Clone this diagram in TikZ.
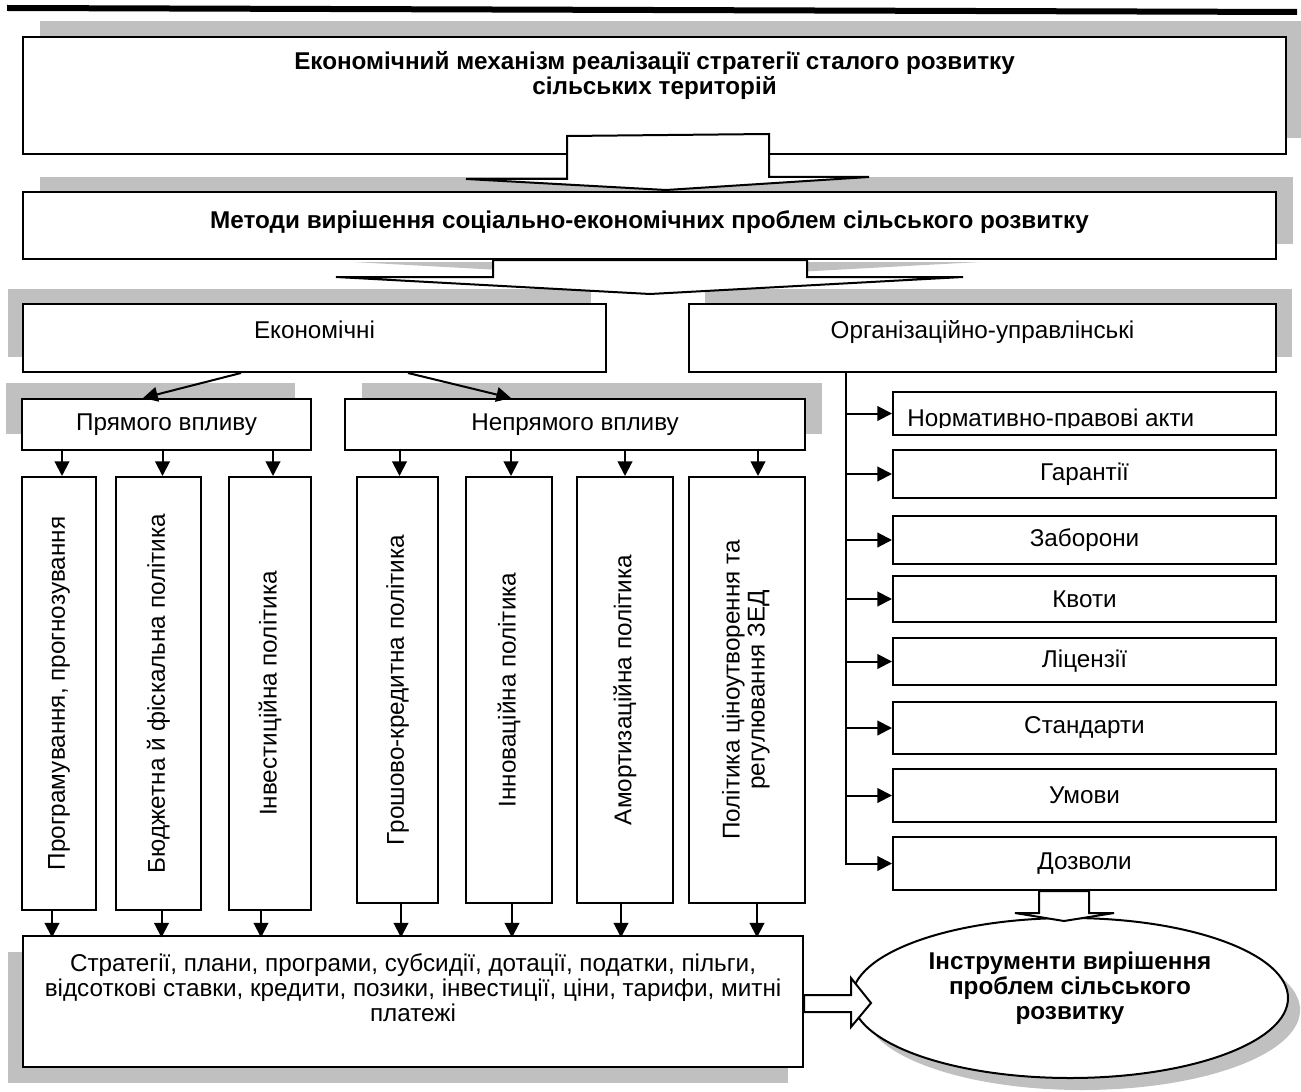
\documentclass[tikz,border=0pt]{standalone}
\usepackage{fontspec}
\usepackage{graphicx}
\setmainfont{Liberation Sans}
\usetikzlibrary{arrows.meta,calc,positioning,shadows,shapes.geometric}
\definecolor{shadowgray}{RGB}{192,192,192}
\tikzset{box/.style={
            draw,
            fill=white,
            line width=1.5pt,
            inner sep=0pt,
            align=center,
            font=\fontsize{18.2}{18.75}\selectfont
        },
        boldbox/.style={
            box,
            font=\fontsize{18.2}{18.75}\selectfont\bfseries
        },
        txt/.style={
            align=center,
            inner sep=0pt,
            font=\fontsize{18.2}{18.75}\selectfont
        },
        boldtxt/.style={
            txt,
            font=\fontsize{18.2}{18.75}\selectfont\bfseries
        },
        sz/.style 2 args={
            minimum width=#1*0.75pt,
            minimum height=#2*0.75pt
        },
        lift/.style={
            text height=13pt,
            text depth=#1
        },
        backshadow/.style 2 args={
            general shadow={shadow xshift=#1*0.75pt, shadow yshift=#2*0.75pt, fill=shadowgray}
        },
        arr/.style={
            line width=1.5pt,
            -{Triangle[length=11pt,width=11pt]}
        },
        barrow/.style={
            fill=white,
            line width=1.5pt
        }
    }

\begin{document}
\begin{tikzpicture}[x=0.75pt,y=-0.75pt]
\useasboundingbox (0,0) rectangle (1301,1091);
\fill[white] (0,0) rectangle (1301,1091);
% top rule
\fill[black] (7,5) -- (1297,9) -- (1297,15) -- (7,11) -- cycle;

% main levels
\node[box, sz={1263}{117}, backshadow={17}{16},
      label={[boldtxt, yshift=15pt]center:{Економічний механізм реалізації стратегії сталого розвитку\\сільських територій}}]
      (mech) at (654.5,95.5) {};
\node[boldbox, sz={1253}{67}, lift=8pt, backshadow={17}{15}] (meth) at (649.5,225.5)
      {Методи вирішення соціально-економічних проблем сільського розвитку};
\node[box, sz={583}{68}, lift=12.5pt, backshadow={-15}{15}] (eco) at (314.5,338) {Економічні};
\node[box, sz={587}{68}, lift=12.5pt, backshadow={16}{15}] (org) at (982.5,338) {Організаційно-управлінські};
\node[box, sz={289}{51}, backshadow={-16}{16}] (direct) at (166.5,424.5) {Прямого впливу};
\node[box, sz={460}{51}, backshadow={17}{16}] (indirect) at (575,424.5) {Непрямого впливу};

% policy columns
\node[box, sz={74}{433}] (c1) at (59,693.5) {\rotatebox{90}{Програмування, прогнозування}};
\node[box, sz={85}{433}] (c2) at (158.5,693.5) {\rotatebox{90}{Бюджетна й фіскальна політика}};
\node[box, sz={82}{433}] (c3) at (270,693.5) {\rotatebox{90}{Інвестиційна політика}};
\node[box, sz={81}{426}] (c4) at (397.5,690) {\rotatebox{90}{Грошово-кредитна політика}};
\node[box, sz={86}{426}] (c5) at (509,690) {\rotatebox{90}{Інноваційна політика}};
\node[box, sz={96}{426}] (c6) at (625,690) {\rotatebox{90}{Амортизаційна політика}};
\node[box, sz={116}{426}] (c7) at (747,690)
      {\rotatebox{90}{\begin{tabular}{@{}c@{}}Політика ціноутворення та\\регулювання ЗЕД\end{tabular}}};

% organisational tools
\node[box, sz={383}{43}] (r1) at (1084.5,413.5) {};
\node[box, sz={383}{48}] (r2) at (1084.5,474) {Гарантії};
\node[box, sz={383}{48}] (r3) at (1084.5,540) {Заборони};
\node[box, sz={383}{46}] (r4) at (1084.5,599) {Квоти};
\node[box, sz={383}{47}] (r5) at (1084.5,661.5) {Ліцензії};
\node[box, sz={383}{52}] (r6) at (1084.5,728) {Стандарти};
\node[box, sz={383}{53}] (r7) at (1084.5,795.5) {Умови};
\node[box, sz={383}{53}] (r8) at (1084.5,863.5) {Дозволи};
\begin{scope}
\clip ($(r1.north west)+(2,2)$) rectangle ($(r1.south east)+(-2,-8.5)$);
\node[txt, anchor=base west] (r1text) at ($(r1.south west)+(15,-10)$) {Нормативно-правові акти};
\end{scope}

% results
\node[box, sz={780}{131}, backshadow={-15}{-16},
      label={[txt, yshift=10pt]center:{Стратегії, плани, програми, субсидії, дотації, податки, пільги,\\відсоткові ставки, кредити, позики, інвестиції, ціни, тарифи, митні\\платежі}}]
      (tools) at (413,1001.5) {};
\node[box, ellipse, sz={436}{160}, backshadow={12}{-12},
      label={[boldtxt, yshift=7.5pt]center:{Інструменти вирішення\\проблем сільського\\розвитку}}]
      (inst) at (1070,998) {};

% arrows
\draw[arr] ($(eco.south)+(-73.5,0)$) -- ($(direct.north)+(-23.5,0)$);
\draw[arr] ($(eco.south)+(93.5,0)$) -- ($(indirect.north)+(-64,0)$);
\foreach \c/\a/\b in {c1/3/-7,c2/4/3,c3/3/-9}{
    \draw[arr] ($(\c.north)+(\a,-27.5)$) -- ($(\c.north)+(\a,0)$);
    \draw[arr] ($(\c.south)+(\b,0)$) -- ($(\c.south)+(\b,26.5)$);
}
\foreach \c/\a/\b in {c4/2/3.5,c5/2/3,c6/0/-4,c7/11/10}{
    \draw[arr] ($(\c.north)+(\a,-27.5)$) -- ($(\c.north)+(\a,0)$);
    \draw[arr] ($(\c.south)+(\b,0)$) -- ($(\c.south)+(\b,33.5)$);
}
\coordinate (trunk) at ($(org.south west)+(158,0)$);
\draw[arr] (trunk) |- (r8.west);
\foreach \r in {r1,r2,r3,r4,r5,r6,r7}
    \draw[arr] (trunk |- \r.west) -- (\r.west);

% block arrows
\filldraw[barrow] ($(mech.south)+(-87.5,-19)$) -- ++(0,43) -- ++(-101,0)
    -- ($(meth.north)+(16.5,-1)$) -- ++(203,-13) -- ++(-100,0) -- ++(0,-43) -- cycle;
\fill[shadowgray] ($(meth.south)+(-296.5,2)$) -- ++(627,0) -- ++(-313,17) -- cycle;
\filldraw[barrow] ($(meth.south)+(-156.5,0)$) -- ++(0,17) -- ++(-157,0)
    -- ++(314,17) -- ++(313,-17) -- ++(-156,0) -- ++(0,-17) -- cycle;
\filldraw[barrow] ($(tools.east)+(0,-6.5)$) -- ++(47,0) -- ++(0,-17)
    -- ++(20,25) -- ++(-20,24) -- ++(0,-15) -- ++(-47,0) -- cycle;
\filldraw[barrow] ($(r8.south)+(-45.5,0)$) -- ++(0,22) -- ++(-24,0)
    -- ++(49,8) -- ++(50,-8) -- ++(-25,0) -- ++(0,-22) -- cycle;
\end{tikzpicture}
\end{document}
